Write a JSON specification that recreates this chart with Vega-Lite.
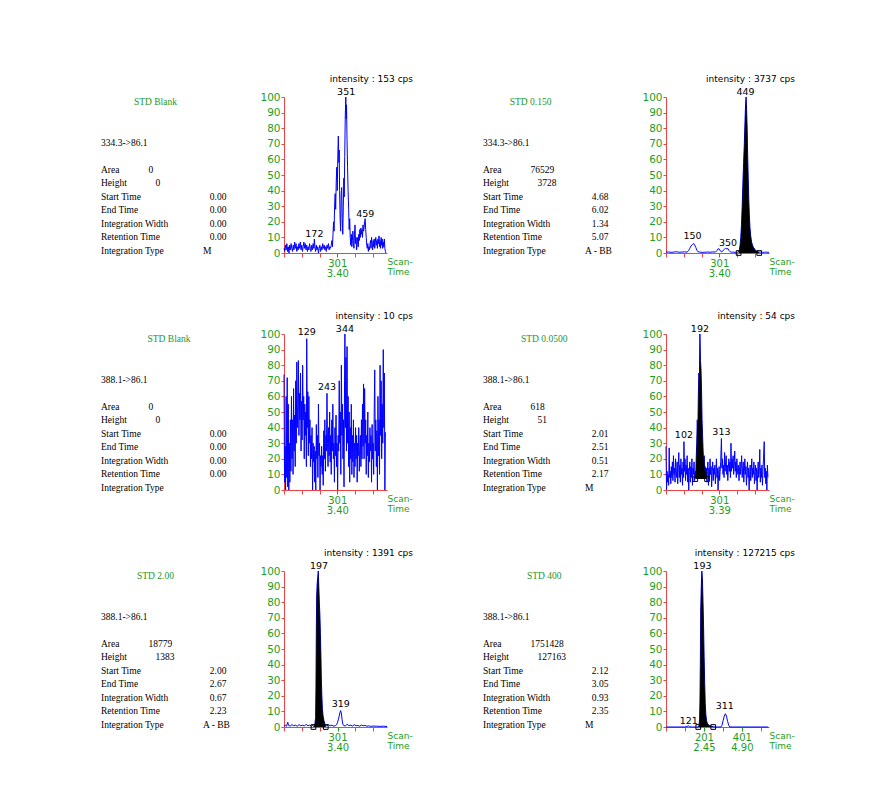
{
  "$schema": "https://vega.github.io/schema/vega-lite/v6.json",
  "background": "white",
  "padding": {"left": 101, "top": 74, "right": 0, "bottom": 0},
  "config": {
    "view": {"stroke": null},
    "axis": {"domainColor": "#ee4444", "tickColor": "#ee4444", "labelColor": "#1e9e1e", "labelFont": "DejaVu Sans", "grid": false, "domainWidth": 1, "tickWidth": 1},
    "axisX": {"tickSize": 4, "labelPadding": 1, "labelFlush": false, "labelLineHeight": 10, "labelFontSize": 10, "titleColor": "#1e9e1e", "titleFont": "DejaVu Sans", "titleFontSize": 9, "titleFontWeight": "normal", "titleX": 103, "titleY": 4, "titleAlign": "left", "titleBaseline": "top", "titleLineHeight": 10, "titleAnchor": "start"},
    "axisY": {"tickSize": 3, "labelPadding": 1, "labelFontSize": 10.5, "title": null},
    "title": {"anchor": "end", "frame": "group", "dx": 26, "font": "DejaVu Sans", "fontSize": 9, "fontWeight": "normal", "color": "black", "offset": 3.5, "baseline": "bottom"}
  },
  "datasets": {
    "info": [
      {"p":1,"line":0,"col":8,"t":"STD Blank"},
      {"p":1,"line":3,"col":0,"t":"334.3->86.1"},
      {"p":1,"line":5,"col":0,"t":"Area"},{"p":1,"line":5,"col":7,"t":"0"},
      {"p":1,"line":6,"col":0,"t":"Height"},{"p":1,"line":6,"col":8,"t":"0"},
      {"p":1,"line":7,"col":0,"t":"Start Time"},{"p":1,"line":7,"col":16,"t":"0.00"},
      {"p":1,"line":8,"col":0,"t":"End Time"},{"p":1,"line":8,"col":16,"t":"0.00"},
      {"p":1,"line":9,"col":0,"t":"Integration Width"},{"p":1,"line":9,"col":16,"t":"0.00"},
      {"p":1,"line":10,"col":0,"t":"Retention Time"},{"p":1,"line":10,"col":16,"t":"0.00"},
      {"p":1,"line":11,"col":0,"t":"Integration Type"},{"p":1,"line":11,"col":15,"t":"M"},
      {"p":2,"line":0,"col":7,"t":"STD 0.150"},
      {"p":2,"line":3,"col":0,"t":"334.3->86.1"},
      {"p":2,"line":5,"col":0,"t":"Area"},{"p":2,"line":5,"col":7,"t":"76529"},
      {"p":2,"line":6,"col":0,"t":"Height"},{"p":2,"line":6,"col":8,"t":"3728"},
      {"p":2,"line":7,"col":0,"t":"Start Time"},{"p":2,"line":7,"col":16,"t":"4.68"},
      {"p":2,"line":8,"col":0,"t":"End Time"},{"p":2,"line":8,"col":16,"t":"6.02"},
      {"p":2,"line":9,"col":0,"t":"Integration Width"},{"p":2,"line":9,"col":16,"t":"1.34"},
      {"p":2,"line":10,"col":0,"t":"Retention Time"},{"p":2,"line":10,"col":16,"t":"5.07"},
      {"p":2,"line":11,"col":0,"t":"Integration Type"},{"p":2,"line":11,"col":15,"t":"A - BB"},
      {"p":3,"line":0,"col":10,"t":"STD Blank"},
      {"p":3,"line":3,"col":0,"t":"388.1->86.1"},
      {"p":3,"line":5,"col":0,"t":"Area"},{"p":3,"line":5,"col":7,"t":"0"},
      {"p":3,"line":6,"col":0,"t":"Height"},{"p":3,"line":6,"col":8,"t":"0"},
      {"p":3,"line":7,"col":0,"t":"Start Time"},{"p":3,"line":7,"col":16,"t":"0.00"},
      {"p":3,"line":8,"col":0,"t":"End Time"},{"p":3,"line":8,"col":16,"t":"0.00"},
      {"p":3,"line":9,"col":0,"t":"Integration Width"},{"p":3,"line":9,"col":16,"t":"0.00"},
      {"p":3,"line":10,"col":0,"t":"Retention Time"},{"p":3,"line":10,"col":16,"t":"0.00"},
      {"p":3,"line":11,"col":0,"t":"Integration Type"},
      {"p":4,"line":0,"col":9,"t":"STD 0.0500"},
      {"p":4,"line":3,"col":0,"t":"388.1->86.1"},
      {"p":4,"line":5,"col":0,"t":"Area"},{"p":4,"line":5,"col":7,"t":"618"},
      {"p":4,"line":6,"col":0,"t":"Height"},{"p":4,"line":6,"col":8,"t":"51"},
      {"p":4,"line":7,"col":0,"t":"Start Time"},{"p":4,"line":7,"col":16,"t":"2.01"},
      {"p":4,"line":8,"col":0,"t":"End Time"},{"p":4,"line":8,"col":16,"t":"2.51"},
      {"p":4,"line":9,"col":0,"t":"Integration Width"},{"p":4,"line":9,"col":16,"t":"0.51"},
      {"p":4,"line":10,"col":0,"t":"Retention Time"},{"p":4,"line":10,"col":16,"t":"2.17"},
      {"p":4,"line":11,"col":0,"t":"Integration Type"},{"p":4,"line":11,"col":15,"t":"M"},
      {"p":5,"line":0,"col":8,"t":"STD 2.00"},
      {"p":5,"line":3,"col":0,"t":"388.1->86.1"},
      {"p":5,"line":5,"col":0,"t":"Area"},{"p":5,"line":5,"col":7,"t":"18779"},
      {"p":5,"line":6,"col":0,"t":"Height"},{"p":5,"line":6,"col":8,"t":"1383"},
      {"p":5,"line":7,"col":0,"t":"Start Time"},{"p":5,"line":7,"col":16,"t":"2.00"},
      {"p":5,"line":8,"col":0,"t":"End Time"},{"p":5,"line":8,"col":16,"t":"2.67"},
      {"p":5,"line":9,"col":0,"t":"Integration Width"},{"p":5,"line":9,"col":16,"t":"0.67"},
      {"p":5,"line":10,"col":0,"t":"Retention Time"},{"p":5,"line":10,"col":16,"t":"2.23"},
      {"p":5,"line":11,"col":0,"t":"Integration Type"},{"p":5,"line":11,"col":15,"t":"A - BB"},
      {"p":6,"line":0,"col":9,"t":"STD 400"},
      {"p":6,"line":3,"col":0,"t":"388.1->86.1"},
      {"p":6,"line":5,"col":0,"t":"Area"},{"p":6,"line":5,"col":7,"t":"1751428"},
      {"p":6,"line":6,"col":0,"t":"Height"},{"p":6,"line":6,"col":8,"t":"127163"},
      {"p":6,"line":7,"col":0,"t":"Start Time"},{"p":6,"line":7,"col":16,"t":"2.12"},
      {"p":6,"line":8,"col":0,"t":"End Time"},{"p":6,"line":8,"col":16,"t":"3.05"},
      {"p":6,"line":9,"col":0,"t":"Integration Width"},{"p":6,"line":9,"col":16,"t":"0.93"},
      {"p":6,"line":10,"col":0,"t":"Retention Time"},{"p":6,"line":10,"col":16,"t":"2.35"},
      {"p":6,"line":11,"col":0,"t":"Integration Type"},{"p":6,"line":11,"col":15,"t":"M"}
    ],
    "peaks": [
      {"p":1,"s":172,"v":9,"t":"172"},{"p":1,"s":351,"v":100,"t":"351"},{"p":1,"s":459,"v":22,"t":"459"},
      {"p":2,"s":150,"v":7.5,"t":"150"},{"p":2,"s":350,"v":3.5,"t":"350"},{"p":2,"s":449,"v":100,"t":"449"},
      {"p":3,"s":129,"v":98,"t":"129"},{"p":3,"s":243,"v":63,"t":"243"},{"p":3,"s":344,"v":100,"t":"344"},
      {"p":4,"s":102,"v":32,"t":"102"},{"p":4,"s":192,"v":100,"t":"192"},{"p":4,"s":313,"v":34,"t":"313"},
      {"p":5,"s":197,"v":100,"t":"197"},{"p":5,"s":319,"v":11.5,"t":"319"},
      {"p":6,"s":121,"v":0.5,"t":"121"},{"p":6,"s":193,"v":100,"t":"193"},{"p":6,"s":311,"v":10,"t":"311"}
    ],
    "bounds": [
      {"p":2,"s":410,"v":0},{"p":2,"s":526,"v":0},
      {"p":4,"s":166,"v":7},{"p":4,"s":232,"v":7},
      {"p":5,"s":166,"v":0},{"p":5,"s":235,"v":0},
      {"p":6,"s":171,"v":0},{"p":6,"s":250,"v":0}
    ],
    "p1": [
      {"s":1,"v":3},{"s":5,"v":1},{"s":9,"v":5},{"s":13,"v":2},{"s":17,"v":6},{"s":21,"v":1},{"s":25,"v":4},{"s":29,"v":0},{"s":33,"v":5},{"s":37,"v":2},{"s":41,"v":6},{"s":45,"v":3},{"s":49,"v":1},{"s":53,"v":5},{"s":57,"v":2},{"s":61,"v":7},{"s":65,"v":3},{"s":69,"v":6},{"s":73,"v":1},{"s":77,"v":4},{"s":81,"v":2},{"s":85,"v":6},{"s":89,"v":3},{"s":93,"v":7},{"s":97,"v":2},{"s":101,"v":5},{"s":105,"v":1},{"s":109,"v":4},{"s":113,"v":7},{"s":117,"v":3},{"s":121,"v":6},{"s":125,"v":2},{"s":129,"v":5},{"s":133,"v":1},{"s":137,"v":4},{"s":141,"v":2},{"s":145,"v":6},{"s":149,"v":3},{"s":153,"v":1},{"s":157,"v":5},{"s":161,"v":2},{"s":165,"v":6},{"s":169,"v":3},{"s":172,"v":9},{"s":175,"v":4},{"s":179,"v":1},{"s":183,"v":5},{"s":187,"v":2},{"s":191,"v":4},{"s":195,"v":0},{"s":199,"v":3},{"s":203,"v":5},{"s":207,"v":1},{"s":211,"v":4},{"s":215,"v":2},{"s":219,"v":6},{"s":223,"v":3},{"s":227,"v":5},{"s":231,"v":2},{"s":235,"v":4},{"s":239,"v":1},{"s":243,"v":5},{"s":247,"v":3},{"s":251,"v":6},{"s":255,"v":2},{"s":259,"v":4},{"s":263,"v":3},{"s":267,"v":5},{"s":271,"v":8},{"s":274,"v":4},{"s":277,"v":12},{"s":280,"v":20},{"s":283,"v":14},{"s":286,"v":30},{"s":289,"v":38},{"s":292,"v":28},{"s":295,"v":45},{"s":298,"v":55},{"s":301,"v":40},{"s":304,"v":62},{"s":307,"v":75},{"s":310,"v":58},{"s":312,"v":66},{"s":314,"v":40},{"s":317,"v":22},{"s":320,"v":14},{"s":323,"v":38},{"s":326,"v":42},{"s":329,"v":22},{"s":332,"v":12},{"s":335,"v":30},{"s":338,"v":48},{"s":340,"v":36},{"s":343,"v":62},{"s":346,"v":88},{"s":349,"v":100},{"s":351,"v":86},{"s":353,"v":95},{"s":356,"v":72},{"s":359,"v":55},{"s":362,"v":40},{"s":365,"v":28},{"s":368,"v":15},{"s":371,"v":22},{"s":374,"v":10},{"s":377,"v":5},{"s":380,"v":12},{"s":383,"v":4},{"s":386,"v":8},{"s":389,"v":14},{"s":392,"v":6},{"s":395,"v":3},{"s":398,"v":12},{"s":401,"v":18},{"s":404,"v":6},{"s":407,"v":10},{"s":410,"v":2},{"s":413,"v":6},{"s":416,"v":10},{"s":419,"v":4},{"s":422,"v":12},{"s":425,"v":8},{"s":428,"v":15},{"s":431,"v":10},{"s":434,"v":16},{"s":437,"v":12},{"s":440,"v":15},{"s":443,"v":10},{"s":446,"v":18},{"s":449,"v":14},{"s":452,"v":16},{"s":455,"v":20},{"s":458,"v":22},{"s":461,"v":15},{"s":464,"v":10},{"s":467,"v":5},{"s":470,"v":3},{"s":473,"v":6},{"s":476,"v":1},{"s":479,"v":4},{"s":482,"v":2},{"s":485,"v":5},{"s":488,"v":8},{"s":491,"v":3},{"s":494,"v":10},{"s":497,"v":6},{"s":500,"v":2},{"s":503,"v":8},{"s":506,"v":4},{"s":509,"v":9},{"s":512,"v":3},{"s":515,"v":7},{"s":518,"v":10},{"s":521,"v":5},{"s":524,"v":8},{"s":527,"v":3},{"s":530,"v":9},{"s":533,"v":6},{"s":536,"v":11},{"s":539,"v":4},{"s":542,"v":8},{"s":545,"v":3},{"s":548,"v":10},{"s":551,"v":5},{"s":554,"v":9},{"s":557,"v":3},{"s":560,"v":7},{"s":563,"v":4},{"s":566,"v":9},{"s":569,"v":3},{"s":572,"v":1},{"s":575,"v":0}
    ],
    "p2": [
      {"s":1,"v":0.5},{"s":15,"v":0.7},{"s":30,"v":0.4},{"s":45,"v":0.6},{"s":60,"v":0.8},{"s":75,"v":0.5},{"s":90,"v":0.6},{"s":105,"v":0.7},{"s":120,"v":0.6},{"s":128,"v":1.5},{"s":135,"v":3},{"s":142,"v":4.5},{"s":150,"v":5.5},{"s":157,"v":6},{"s":163,"v":5},{"s":169,"v":3.5},{"s":175,"v":1.8},{"s":181,"v":0.8},{"s":190,"v":0.6},{"s":205,"v":0.4},{"s":220,"v":0.5},{"s":235,"v":0.6},{"s":250,"v":0.5},{"s":265,"v":0.7},{"s":280,"v":0.6},{"s":288,"v":1.5},{"s":295,"v":2.8},{"s":301,"v":2.5},{"s":308,"v":1.2},{"s":315,"v":0.8},{"s":322,"v":1.5},{"s":330,"v":2.4},{"s":337,"v":3},{"s":344,"v":2.6},{"s":350,"v":2.8},{"s":356,"v":1.5},{"s":362,"v":0.8},{"s":370,"v":0.5},{"s":380,"v":0.6},{"s":390,"v":0.4},{"s":400,"v":0.5},{"s":405,"v":0.5},{"s":410,"v":0.8},{"s":414,"v":2},{"s":418,"v":5},{"s":422,"v":10},{"s":426,"v":18},{"s":430,"v":30},{"s":434,"v":45},{"s":438,"v":58},{"s":442,"v":70},{"s":446,"v":85},{"s":449,"v":95},{"s":452,"v":100},{"s":455,"v":92},{"s":458,"v":80},{"s":461,"v":62},{"s":464,"v":48},{"s":467,"v":35},{"s":470,"v":25},{"s":474,"v":16},{"s":478,"v":11},{"s":483,"v":7},{"s":488,"v":5},{"s":494,"v":3.5},{"s":500,"v":2.5},{"s":507,"v":1.5},{"s":515,"v":1},{"s":520,"v":0.8},{"s":526,"v":0.5},{"s":535,"v":0.6},{"s":545,"v":0.4},{"s":555,"v":0.5},{"s":565,"v":0.6},{"s":575,"v":0.4},{"s":581,"v":0.5}
    ],
    "p3": [
      {"s":1,"v":74},{"s":4,"v":5},{"s":7,"v":28},{"s":10,"v":0},{"s":13,"v":60},{"s":16,"v":8},{"s":19,"v":72},{"s":22,"v":2},{"s":25,"v":55},{"s":28,"v":0},{"s":31,"v":30},{"s":34,"v":5},{"s":37,"v":45},{"s":40,"v":12},{"s":43,"v":60},{"s":46,"v":20},{"s":49,"v":45},{"s":52,"v":10},{"s":55,"v":65},{"s":58,"v":25},{"s":61,"v":48},{"s":64,"v":15},{"s":67,"v":70},{"s":70,"v":30},{"s":73,"v":82},{"s":76,"v":40},{"s":79,"v":55},{"s":82,"v":83},{"s":85,"v":35},{"s":88,"v":62},{"s":91,"v":45},{"s":94,"v":75},{"s":97,"v":25},{"s":100,"v":57},{"s":103,"v":32},{"s":106,"v":80},{"s":109,"v":45},{"s":112,"v":60},{"s":115,"v":20},{"s":118,"v":55},{"s":121,"v":35},{"s":124,"v":50},{"s":127,"v":15},{"s":129,"v":97},{"s":132,"v":40},{"s":135,"v":63},{"s":138,"v":22},{"s":141,"v":60},{"s":144,"v":30},{"s":147,"v":45},{"s":150,"v":15},{"s":153,"v":35},{"s":156,"v":20},{"s":159,"v":40},{"s":162,"v":0},{"s":165,"v":30},{"s":168,"v":18},{"s":171,"v":28},{"s":174,"v":5},{"s":177,"v":25},{"s":180,"v":0},{"s":183,"v":42},{"s":186,"v":20},{"s":189,"v":35},{"s":192,"v":8},{"s":195,"v":55},{"s":198,"v":22},{"s":201,"v":30},{"s":204,"v":0},{"s":207,"v":22},{"s":210,"v":15},{"s":213,"v":28},{"s":216,"v":10},{"s":219,"v":22},{"s":222,"v":3},{"s":225,"v":38},{"s":228,"v":20},{"s":231,"v":45},{"s":234,"v":12},{"s":237,"v":35},{"s":240,"v":25},{"s":243,"v":62},{"s":246,"v":30},{"s":249,"v":15},{"s":252,"v":40},{"s":255,"v":22},{"s":258,"v":50},{"s":261,"v":18},{"s":264,"v":35},{"s":267,"v":10},{"s":270,"v":45},{"s":273,"v":25},{"s":276,"v":55},{"s":279,"v":20},{"s":282,"v":30},{"s":285,"v":5},{"s":288,"v":40},{"s":291,"v":22},{"s":294,"v":48},{"s":297,"v":15},{"s":300,"v":30},{"s":303,"v":0},{"s":306,"v":35},{"s":309,"v":25},{"s":312,"v":70},{"s":315,"v":30},{"s":318,"v":50},{"s":321,"v":10},{"s":324,"v":80},{"s":327,"v":35},{"s":330,"v":55},{"s":333,"v":20},{"s":336,"v":45},{"s":339,"v":2},{"s":342,"v":70},{"s":344,"v":100},{"s":347,"v":40},{"s":350,"v":85},{"s":353,"v":25},{"s":356,"v":92},{"s":359,"v":30},{"s":362,"v":60},{"s":365,"v":15},{"s":368,"v":50},{"s":371,"v":5},{"s":374,"v":40},{"s":377,"v":20},{"s":380,"v":55},{"s":383,"v":10},{"s":386,"v":35},{"s":389,"v":18},{"s":392,"v":45},{"s":395,"v":8},{"s":398,"v":30},{"s":401,"v":15},{"s":404,"v":40},{"s":407,"v":20},{"s":410,"v":35},{"s":413,"v":5},{"s":416,"v":30},{"s":419,"v":22},{"s":422,"v":40},{"s":425,"v":12},{"s":428,"v":28},{"s":431,"v":35},{"s":434,"v":15},{"s":437,"v":45},{"s":440,"v":20},{"s":443,"v":55},{"s":446,"v":28},{"s":449,"v":68},{"s":452,"v":20},{"s":455,"v":65},{"s":458,"v":30},{"s":461,"v":45},{"s":464,"v":10},{"s":467,"v":35},{"s":470,"v":22},{"s":473,"v":50},{"s":476,"v":8},{"s":479,"v":30},{"s":482,"v":18},{"s":485,"v":40},{"s":488,"v":25},{"s":491,"v":35},{"s":494,"v":5},{"s":497,"v":42},{"s":500,"v":20},{"s":503,"v":30},{"s":506,"v":10},{"s":509,"v":50},{"s":512,"v":77},{"s":515,"v":25},{"s":518,"v":45},{"s":521,"v":15},{"s":524,"v":38},{"s":527,"v":0},{"s":530,"v":60},{"s":533,"v":22},{"s":536,"v":45},{"s":539,"v":10},{"s":542,"v":80},{"s":545,"v":35},{"s":548,"v":70},{"s":551,"v":20},{"s":554,"v":55},{"s":557,"v":30},{"s":560,"v":90},{"s":563,"v":40},{"s":566,"v":75},{"s":569,"v":0},{"s":572,"v":37}
    ],
    "p4": [
      {"s":1,"v":28},{"s":4,"v":0},{"s":7,"v":12},{"s":10,"v":5},{"s":13,"v":10},{"s":16,"v":3},{"s":19,"v":27},{"s":22,"v":8},{"s":25,"v":12},{"s":28,"v":4},{"s":31,"v":15},{"s":34,"v":8},{"s":37,"v":18},{"s":40,"v":6},{"s":43,"v":22},{"s":46,"v":10},{"s":49,"v":14},{"s":52,"v":5},{"s":55,"v":20},{"s":58,"v":12},{"s":61,"v":8},{"s":64,"v":18},{"s":67,"v":4},{"s":70,"v":15},{"s":73,"v":24},{"s":76,"v":8},{"s":79,"v":16},{"s":82,"v":5},{"s":85,"v":20},{"s":88,"v":10},{"s":91,"v":14},{"s":94,"v":3},{"s":97,"v":18},{"s":100,"v":8},{"s":102,"v":31},{"s":105,"v":12},{"s":108,"v":20},{"s":111,"v":6},{"s":114,"v":16},{"s":117,"v":10},{"s":120,"v":22},{"s":123,"v":5},{"s":126,"v":14},{"s":129,"v":0},{"s":132,"v":12},{"s":135,"v":18},{"s":138,"v":5},{"s":141,"v":15},{"s":144,"v":8},{"s":147,"v":20},{"s":150,"v":3},{"s":153,"v":14},{"s":156,"v":10},{"s":159,"v":18},{"s":162,"v":6},{"s":166,"v":12},{"s":168,"v":8},{"s":171,"v":20},{"s":174,"v":30},{"s":177,"v":45},{"s":180,"v":35},{"s":183,"v":60},{"s":186,"v":75},{"s":189,"v":70},{"s":192,"v":100},{"s":195,"v":83},{"s":198,"v":78},{"s":201,"v":65},{"s":204,"v":45},{"s":207,"v":35},{"s":210,"v":25},{"s":213,"v":18},{"s":216,"v":22},{"s":219,"v":12},{"s":222,"v":15},{"s":225,"v":8},{"s":228,"v":14},{"s":232,"v":5},{"s":234,"v":12},{"s":237,"v":18},{"s":240,"v":3},{"s":243,"v":14},{"s":246,"v":8},{"s":249,"v":20},{"s":252,"v":10},{"s":255,"v":15},{"s":258,"v":2},{"s":261,"v":12},{"s":264,"v":18},{"s":267,"v":6},{"s":270,"v":14},{"s":273,"v":10},{"s":276,"v":16},{"s":279,"v":4},{"s":282,"v":12},{"s":285,"v":20},{"s":288,"v":8},{"s":291,"v":14},{"s":294,"v":0},{"s":297,"v":10},{"s":300,"v":15},{"s":303,"v":6},{"s":306,"v":12},{"s":309,"v":18},{"s":313,"v":33},{"s":316,"v":14},{"s":319,"v":20},{"s":322,"v":10},{"s":325,"v":16},{"s":328,"v":8},{"s":331,"v":24},{"s":334,"v":12},{"s":337,"v":18},{"s":340,"v":22},{"s":343,"v":10},{"s":346,"v":16},{"s":349,"v":6},{"s":352,"v":14},{"s":355,"v":20},{"s":358,"v":12},{"s":361,"v":18},{"s":364,"v":8},{"s":367,"v":30},{"s":370,"v":12},{"s":373,"v":20},{"s":376,"v":14},{"s":379,"v":22},{"s":382,"v":10},{"s":385,"v":16},{"s":388,"v":25},{"s":391,"v":12},{"s":394,"v":18},{"s":397,"v":8},{"s":400,"v":20},{"s":403,"v":14},{"s":406,"v":10},{"s":409,"v":16},{"s":412,"v":6},{"s":415,"v":12},{"s":418,"v":18},{"s":421,"v":10},{"s":424,"v":15},{"s":427,"v":22},{"s":430,"v":8},{"s":433,"v":14},{"s":436,"v":18},{"s":439,"v":5},{"s":442,"v":12},{"s":445,"v":20},{"s":448,"v":10},{"s":451,"v":15},{"s":454,"v":3},{"s":457,"v":12},{"s":460,"v":18},{"s":463,"v":8},{"s":466,"v":14},{"s":469,"v":0},{"s":472,"v":10},{"s":475,"v":16},{"s":478,"v":6},{"s":481,"v":12},{"s":484,"v":20},{"s":487,"v":8},{"s":490,"v":14},{"s":493,"v":10},{"s":496,"v":18},{"s":499,"v":4},{"s":502,"v":12},{"s":505,"v":16},{"s":508,"v":6},{"s":511,"v":14},{"s":514,"v":0},{"s":517,"v":10},{"s":520,"v":18},{"s":523,"v":8},{"s":526,"v":12},{"s":529,"v":26},{"s":532,"v":5},{"s":535,"v":14},{"s":538,"v":8},{"s":541,"v":16},{"s":544,"v":3},{"s":547,"v":12},{"s":550,"v":20},{"s":554,"v":31},{"s":557,"v":8},{"s":560,"v":14},{"s":563,"v":4},{"s":566,"v":12},{"s":569,"v":0},{"s":572,"v":16},{"s":575,"v":8}
    ],
    "p5": [
      {"s":1,"v":0.5},{"s":8,"v":1},{"s":15,"v":0.5},{"s":22,"v":3},{"s":27,"v":1},{"s":35,"v":0.5},{"s":45,"v":1.5},{"s":55,"v":0.8},{"s":65,"v":1.2},{"s":75,"v":0.5},{"s":85,"v":1.5},{"s":95,"v":0.8},{"s":105,"v":1.2},{"s":115,"v":0.6},{"s":125,"v":1.8},{"s":135,"v":0.7},{"s":145,"v":1.2},{"s":155,"v":0.5},{"s":162,"v":1},{"s":166,"v":0.5},{"s":170,"v":1},{"s":174,"v":2},{"s":178,"v":6},{"s":180,"v":25},{"s":182,"v":60},{"s":184,"v":84},{"s":187,"v":92},{"s":190,"v":96},{"s":193,"v":100},{"s":196,"v":90},{"s":199,"v":80},{"s":202,"v":72},{"s":205,"v":60},{"s":208,"v":45},{"s":210,"v":32},{"s":213,"v":20},{"s":216,"v":12},{"s":220,"v":7},{"s":225,"v":4},{"s":230,"v":2},{"s":235,"v":1},{"s":240,"v":0.8},{"s":250,"v":1.5},{"s":260,"v":0.8},{"s":270,"v":1.2},{"s":280,"v":0.5},{"s":290,"v":1},{"s":296,"v":1.5},{"s":301,"v":3},{"s":306,"v":5},{"s":310,"v":7},{"s":314,"v":9},{"s":318,"v":10.5},{"s":322,"v":9},{"s":326,"v":5},{"s":330,"v":2},{"s":335,"v":1},{"s":345,"v":0.6},{"s":355,"v":1.8},{"s":365,"v":0.8},{"s":375,"v":1.2},{"s":385,"v":0.6},{"s":395,"v":1.5},{"s":405,"v":0.8},{"s":415,"v":1},{"s":425,"v":0.5},{"s":435,"v":1.2},{"s":445,"v":0.8},{"s":455,"v":1},{"s":465,"v":0.5},{"s":475,"v":0.8},{"s":485,"v":0.4},{"s":500,"v":0.6},{"s":520,"v":0.5},{"s":540,"v":0.4},{"s":560,"v":0.5},{"s":578,"v":0.3}
    ],
    "p6": [
      {"s":1,"v":0},{"s":50,"v":0},{"s":100,"v":0},{"s":112,"v":0.3},{"s":118,"v":0.8},{"s":124,"v":0.3},{"s":135,"v":0},{"s":150,"v":0},{"s":165,"v":0},{"s":171,"v":0},{"s":175,"v":1},{"s":178,"v":5},{"s":180,"v":17},{"s":182,"v":40},{"s":184,"v":75},{"s":187,"v":90},{"s":190,"v":100},{"s":193,"v":95},{"s":196,"v":81},{"s":199,"v":65},{"s":202,"v":45},{"s":205,"v":28},{"s":208,"v":15},{"s":211,"v":8},{"s":215,"v":4},{"s":220,"v":2},{"s":230,"v":1},{"s":240,"v":0.5},{"s":250,"v":0.2},{"s":260,"v":0},{"s":275,"v":0},{"s":290,"v":0},{"s":296,"v":1},{"s":302,"v":4},{"s":308,"v":7},{"s":314,"v":8.5},{"s":320,"v":7},{"s":326,"v":3.5},{"s":332,"v":1},{"s":338,"v":0},{"s":360,"v":0},{"s":400,"v":0},{"s":450,"v":0},{"s":500,"v":0},{"s":540,"v":0}
    ]
  },
  "concat": [
    {"width": 87, "height": 156, "data": {"name": "info"}, "transform": [{"filter": "datum.p == 1"}],
     "encoding": {"x": {"field": "col", "type": "quantitative", "scale": {"domain": [0, 17], "range": [0, 115.6]}, "axis": null},
                  "y": {"field": "line", "type": "ordinal", "scale": {"domain": [0,1,2,3,4,5,6,7,8,9,10,11], "range": [5, 154], "padding": 0}, "axis": null},
                  "text": {"field": "t"}},
     "layer": [
       {"transform": [{"filter": "datum.line == 0"}], "mark": {"type": "text", "align": "center", "baseline": "middle", "font": "Liberation Serif", "fontSize": 9.5, "color": "#22962e"}},
       {"transform": [{"filter": "datum.line > 0"}], "mark": {"type": "text", "align": "left", "baseline": "middle", "font": "Liberation Serif", "fontSize": 9.5, "color": "black"}}
     ]},
    {"width": 103, "height": 156, "title": {"text": "intensity : 153 cps"},
     "encoding": {"x": {"field": "s", "type": "quantitative", "scale": {"domain": [1, 581], "nice": false, "zero": false},
                        "axis": {"values": [1,101,201,301,401,501], "labelOverlap": {"expr": "false"}, "labelExpr": "datum.value == 301 ? ['301', '3.40'] : ''", "tickColor": {"condition": {"test": "datum.value == 301", "value": "#1e9e1e"}, "value": "#ee4444"}, "title": ["Scan-", "Time"]}},
                  "y": {"field": "v", "type": "quantitative", "scale": {"domain": [0, 100], "nice": false}, "axis": {"values": [0,10,20,30,40,50,60,70,80,90,100], "labelOverlap": {"expr": "false"}}}},
     "layer": [
       {"data": {"name": "p1"}, "mark": {"type": "line", "color": "#0000ff", "strokeWidth": 1}},
       {"data": {"name": "peaks"}, "transform": [{"filter": "datum.p == 1"}], "mark": {"type": "text", "align": "center", "baseline": "alphabetic", "dy": -2, "font": "DejaVu Sans", "fontSize": 9.5, "color": "black"},
        "encoding": {"text": {"field": "t"}}},
       {"data": {"values": [{}]}, "mark": {"type": "text", "align": "center", "baseline": "middle", "dx": 12, "font": "Liberation Serif", "fontWeight": "bold", "fontSize": 20, "color": "black"},
        "encoding": {"x": {"datum": 581, "type": "quantitative"}, "y": {"datum": 88, "type": "quantitative"}, "text": {"value": "1"}}}
     ]},
    {"width": 87, "height": 156, "data": {"name": "info"}, "transform": [{"filter": "datum.p == 2"}],
     "encoding": {"x": {"field": "col", "type": "quantitative", "scale": {"domain": [0, 17], "range": [0, 115.6]}, "axis": null},
                  "y": {"field": "line", "type": "ordinal", "scale": {"domain": [0,1,2,3,4,5,6,7,8,9,10,11], "range": [5, 154], "padding": 0}, "axis": null},
                  "text": {"field": "t"}},
     "layer": [
       {"transform": [{"filter": "datum.line == 0"}], "mark": {"type": "text", "align": "center", "baseline": "middle", "font": "Liberation Serif", "fontSize": 9.5, "color": "#22962e"}},
       {"transform": [{"filter": "datum.line > 0"}], "mark": {"type": "text", "align": "left", "baseline": "middle", "font": "Liberation Serif", "fontSize": 9.5, "color": "black"}}
     ]},
    {"width": 103, "height": 156, "title": {"text": "intensity : 3737 cps"},
     "encoding": {"x": {"field": "s", "type": "quantitative", "scale": {"domain": [1, 581], "nice": false, "zero": false},
                        "axis": {"values": [1,101,201,301,401,501], "labelOverlap": {"expr": "false"}, "labelExpr": "datum.value == 301 ? ['301', '3.40'] : ''", "tickColor": {"condition": {"test": "datum.value == 301", "value": "#1e9e1e"}, "value": "#ee4444"}, "title": ["Scan-", "Time"]}},
                  "y": {"field": "v", "type": "quantitative", "scale": {"domain": [0, 100], "nice": false}, "axis": {"values": [0,10,20,30,40,50,60,70,80,90,100], "labelOverlap": {"expr": "false"}}}},
     "layer": [
       {"data": {"name": "p2"}, "mark": {"type": "line", "color": "#0000ff", "strokeWidth": 1}},
       {"data": {"name": "p2"}, "transform": [{"filter": "datum.s >= 410 && datum.s <= 526"}], "mark": {"type": "area", "color": "black", "opacity": 1}},
       {"data": {"name": "bounds"}, "transform": [{"filter": "datum.p == 2"}], "mark": {"type": "point", "shape": "square", "filled": false, "size": 22, "color": "black", "strokeWidth": 1, "opacity": 1}},
       {"data": {"name": "peaks"}, "transform": [{"filter": "datum.p == 2"}], "mark": {"type": "text", "align": "center", "baseline": "alphabetic", "dy": -2, "font": "DejaVu Sans", "fontSize": 9.5, "color": "black"},
        "encoding": {"text": {"field": "t"}}},
       {"data": {"values": [{}]}, "mark": {"type": "text", "align": "center", "baseline": "middle", "dx": 12, "font": "Liberation Serif", "fontWeight": "bold", "fontSize": 20, "color": "black"},
        "encoding": {"x": {"datum": 581, "type": "quantitative"}, "y": {"datum": 86.5, "type": "quantitative"}, "text": {"value": "2"}}}
     ]},
    {"width": 87, "height": 156, "data": {"name": "info"}, "transform": [{"filter": "datum.p == 3"}],
     "encoding": {"x": {"field": "col", "type": "quantitative", "scale": {"domain": [0, 17], "range": [0, 115.6]}, "axis": null},
                  "y": {"field": "line", "type": "ordinal", "scale": {"domain": [0,1,2,3,4,5,6,7,8,9,10,11], "range": [5, 154], "padding": 0}, "axis": null},
                  "text": {"field": "t"}},
     "layer": [
       {"transform": [{"filter": "datum.line == 0"}], "mark": {"type": "text", "align": "center", "baseline": "middle", "font": "Liberation Serif", "fontSize": 9.5, "color": "#22962e"}},
       {"transform": [{"filter": "datum.line > 0"}], "mark": {"type": "text", "align": "left", "baseline": "middle", "font": "Liberation Serif", "fontSize": 9.5, "color": "black"}}
     ]},
    {"width": 103, "height": 156, "title": {"text": "intensity : 10 cps"},
     "encoding": {"x": {"field": "s", "type": "quantitative", "scale": {"domain": [1, 581], "nice": false, "zero": false},
                        "axis": {"values": [1,101,201,301,401,501], "labelOverlap": {"expr": "false"}, "labelExpr": "datum.value == 301 ? ['301', '3.40'] : ''", "tickColor": {"condition": {"test": "datum.value == 301", "value": "#1e9e1e"}, "value": "#ee4444"}, "title": ["Scan-", "Time"]}},
                  "y": {"field": "v", "type": "quantitative", "scale": {"domain": [0, 100], "nice": false}, "axis": {"values": [0,10,20,30,40,50,60,70,80,90,100], "labelOverlap": {"expr": "false"}}}},
     "layer": [
       {"data": {"name": "p3"}, "mark": {"type": "line", "color": "#0000ff", "strokeWidth": 1}},
       {"data": {"name": "peaks"}, "transform": [{"filter": "datum.p == 3"}], "mark": {"type": "text", "align": "center", "baseline": "alphabetic", "dy": -2, "font": "DejaVu Sans", "fontSize": 9.5, "color": "black"},
        "encoding": {"text": {"field": "t"}}},
       {"data": {"values": [{}]}, "mark": {"type": "text", "align": "center", "baseline": "middle", "dx": 12, "font": "Liberation Serif", "fontWeight": "bold", "fontSize": 20, "color": "black"},
        "encoding": {"x": {"datum": 581, "type": "quantitative"}, "y": {"datum": 88, "type": "quantitative"}, "text": {"value": "3"}}}
     ]},
    {"width": 87, "height": 156, "data": {"name": "info"}, "transform": [{"filter": "datum.p == 4"}],
     "encoding": {"x": {"field": "col", "type": "quantitative", "scale": {"domain": [0, 17], "range": [0, 115.6]}, "axis": null},
                  "y": {"field": "line", "type": "ordinal", "scale": {"domain": [0,1,2,3,4,5,6,7,8,9,10,11], "range": [5, 154], "padding": 0}, "axis": null},
                  "text": {"field": "t"}},
     "layer": [
       {"transform": [{"filter": "datum.line == 0"}], "mark": {"type": "text", "align": "center", "baseline": "middle", "font": "Liberation Serif", "fontSize": 9.5, "color": "#22962e"}},
       {"transform": [{"filter": "datum.line > 0"}], "mark": {"type": "text", "align": "left", "baseline": "middle", "font": "Liberation Serif", "fontSize": 9.5, "color": "black"}}
     ]},
    {"width": 103, "height": 156, "title": {"text": "intensity : 54 cps"},
     "encoding": {"x": {"field": "s", "type": "quantitative", "scale": {"domain": [1, 581], "nice": false, "zero": false},
                        "axis": {"values": [1,101,201,301,401,501], "labelOverlap": {"expr": "false"}, "labelExpr": "datum.value == 301 ? ['301', '3.39'] : ''", "tickColor": {"condition": {"test": "datum.value == 301", "value": "#1e9e1e"}, "value": "#ee4444"}, "title": ["Scan-", "Time"]}},
                  "y": {"field": "v", "type": "quantitative", "scale": {"domain": [0, 100], "nice": false}, "axis": {"values": [0,10,20,30,40,50,60,70,80,90,100], "labelOverlap": {"expr": "false"}}}},
     "layer": [
       {"data": {"name": "p4"}, "mark": {"type": "line", "color": "#0000ff", "strokeWidth": 1}},
       {"data": {"name": "p4"}, "transform": [{"filter": "datum.s >= 166 && datum.s <= 232"}], "mark": {"type": "area", "color": "black", "opacity": 1},
        "encoding": {"y2": {"datum": 7}}},
       {"data": {"name": "bounds"}, "transform": [{"filter": "datum.p == 4"}], "mark": {"type": "point", "shape": "square", "filled": false, "size": 22, "color": "black", "strokeWidth": 1, "opacity": 1}},
       {"data": {"name": "peaks"}, "transform": [{"filter": "datum.p == 4"}], "mark": {"type": "text", "align": "center", "baseline": "alphabetic", "dy": -2, "font": "DejaVu Sans", "fontSize": 9.5, "color": "black"},
        "encoding": {"text": {"field": "t"}}},
       {"data": {"values": [{}]}, "mark": {"type": "text", "align": "center", "baseline": "middle", "dx": 12, "font": "Liberation Serif", "fontWeight": "bold", "fontSize": 20, "color": "black"},
        "encoding": {"x": {"datum": 581, "type": "quantitative"}, "y": {"datum": 87.5, "type": "quantitative"}, "text": {"value": "4"}}}
     ]},
    {"width": 87, "height": 156, "data": {"name": "info"}, "transform": [{"filter": "datum.p == 5"}],
     "encoding": {"x": {"field": "col", "type": "quantitative", "scale": {"domain": [0, 17], "range": [0, 115.6]}, "axis": null},
                  "y": {"field": "line", "type": "ordinal", "scale": {"domain": [0,1,2,3,4,5,6,7,8,9,10,11], "range": [5, 154], "padding": 0}, "axis": null},
                  "text": {"field": "t"}},
     "layer": [
       {"transform": [{"filter": "datum.line == 0"}], "mark": {"type": "text", "align": "center", "baseline": "middle", "font": "Liberation Serif", "fontSize": 9.5, "color": "#22962e"}},
       {"transform": [{"filter": "datum.line > 0"}], "mark": {"type": "text", "align": "left", "baseline": "middle", "font": "Liberation Serif", "fontSize": 9.5, "color": "black"}}
     ]},
    {"width": 103, "height": 156, "title": {"text": "intensity : 1391 cps"},
     "encoding": {"x": {"field": "s", "type": "quantitative", "scale": {"domain": [1, 578], "nice": false, "zero": false},
                        "axis": {"values": [1,101,201,301,401,501], "labelOverlap": {"expr": "false"}, "labelExpr": "datum.value == 301 ? ['301', '3.40'] : ''", "tickColor": {"condition": {"test": "datum.value == 301", "value": "#1e9e1e"}, "value": "#ee4444"}, "title": ["Scan-", "Time"]}},
                  "y": {"field": "v", "type": "quantitative", "scale": {"domain": [0, 100], "nice": false}, "axis": {"values": [0,10,20,30,40,50,60,70,80,90,100], "labelOverlap": {"expr": "false"}}}},
     "layer": [
       {"data": {"name": "p5"}, "mark": {"type": "line", "color": "#0000ff", "strokeWidth": 1}},
       {"data": {"name": "p5"}, "transform": [{"filter": "datum.s >= 166 && datum.s <= 235"}], "mark": {"type": "area", "color": "black", "opacity": 1}},
       {"data": {"name": "bounds"}, "transform": [{"filter": "datum.p == 5"}], "mark": {"type": "point", "shape": "square", "filled": false, "size": 22, "color": "black", "strokeWidth": 1, "opacity": 1}},
       {"data": {"name": "peaks"}, "transform": [{"filter": "datum.p == 5"}], "mark": {"type": "text", "align": "center", "baseline": "alphabetic", "dy": -2, "font": "DejaVu Sans", "fontSize": 9.5, "color": "black"},
        "encoding": {"text": {"field": "t"}}},
       {"data": {"values": [{}]}, "mark": {"type": "text", "align": "center", "baseline": "middle", "dx": 12, "font": "Liberation Serif", "fontWeight": "bold", "fontSize": 20, "color": "black"},
        "encoding": {"x": {"datum": 578, "type": "quantitative"}, "y": {"datum": 82, "type": "quantitative"}, "text": {"value": "5"}}}
     ]},
    {"width": 87, "height": 156, "data": {"name": "info"}, "transform": [{"filter": "datum.p == 6"}],
     "encoding": {"x": {"field": "col", "type": "quantitative", "scale": {"domain": [0, 17], "range": [0, 115.6]}, "axis": null},
                  "y": {"field": "line", "type": "ordinal", "scale": {"domain": [0,1,2,3,4,5,6,7,8,9,10,11], "range": [5, 154], "padding": 0}, "axis": null},
                  "text": {"field": "t"}},
     "layer": [
       {"transform": [{"filter": "datum.line == 0"}], "mark": {"type": "text", "align": "center", "baseline": "middle", "font": "Liberation Serif", "fontSize": 9.5, "color": "#22962e"}},
       {"transform": [{"filter": "datum.line > 0"}], "mark": {"type": "text", "align": "left", "baseline": "middle", "font": "Liberation Serif", "fontSize": 9.5, "color": "black"}}
     ]},
    {"width": 103, "height": 156, "title": {"text": "intensity : 127215 cps"},
     "encoding": {"x": {"field": "s", "type": "quantitative", "scale": {"domain": [1, 544], "nice": false, "zero": false},
                        "axis": {"values": [1,101,201,301,401,501], "labelOverlap": {"expr": "false"}, "labelExpr": "datum.value == 201 ? ['201', '2.45'] : datum.value == 401 ? ['401', '4.90'] : ''", "tickColor": {"condition": {"test": "datum.value == 201 || datum.value == 401", "value": "#1e9e1e"}, "value": "#ee4444"}, "title": ["Scan-", "Time"]}},
                  "y": {"field": "v", "type": "quantitative", "scale": {"domain": [0, 100], "nice": false}, "axis": {"values": [0,10,20,30,40,50,60,70,80,90,100], "labelOverlap": {"expr": "false"}}}},
     "layer": [
       {"data": {"name": "p6"}, "mark": {"type": "line", "color": "#0000ff", "strokeWidth": 1}},
       {"data": {"name": "p6"}, "transform": [{"filter": "datum.s >= 171 && datum.s <= 250"}], "mark": {"type": "area", "color": "black", "opacity": 1}},
       {"data": {"name": "bounds"}, "transform": [{"filter": "datum.p == 6"}], "mark": {"type": "point", "shape": "square", "filled": false, "size": 22, "color": "black", "strokeWidth": 1, "opacity": 1}},
       {"data": {"name": "peaks"}, "transform": [{"filter": "datum.p == 6"}], "mark": {"type": "text", "align": "center", "baseline": "alphabetic", "dy": -2, "font": "DejaVu Sans", "fontSize": 9.5, "color": "black"},
        "encoding": {"text": {"field": "t"}}},
       {"data": {"values": [{}]}, "mark": {"type": "text", "align": "center", "baseline": "middle", "dx": 12, "font": "Liberation Serif", "fontWeight": "bold", "fontSize": 20, "color": "black"},
        "encoding": {"x": {"datum": 544, "type": "quantitative"}, "y": {"datum": 80, "type": "quantitative"}, "text": {"value": "6"}}}
     ]}
  ],
  "columns": 4,
  "spacing": {"row": 81, "column": 96},
  "align": "each",
  "bounds": "flush"
}
